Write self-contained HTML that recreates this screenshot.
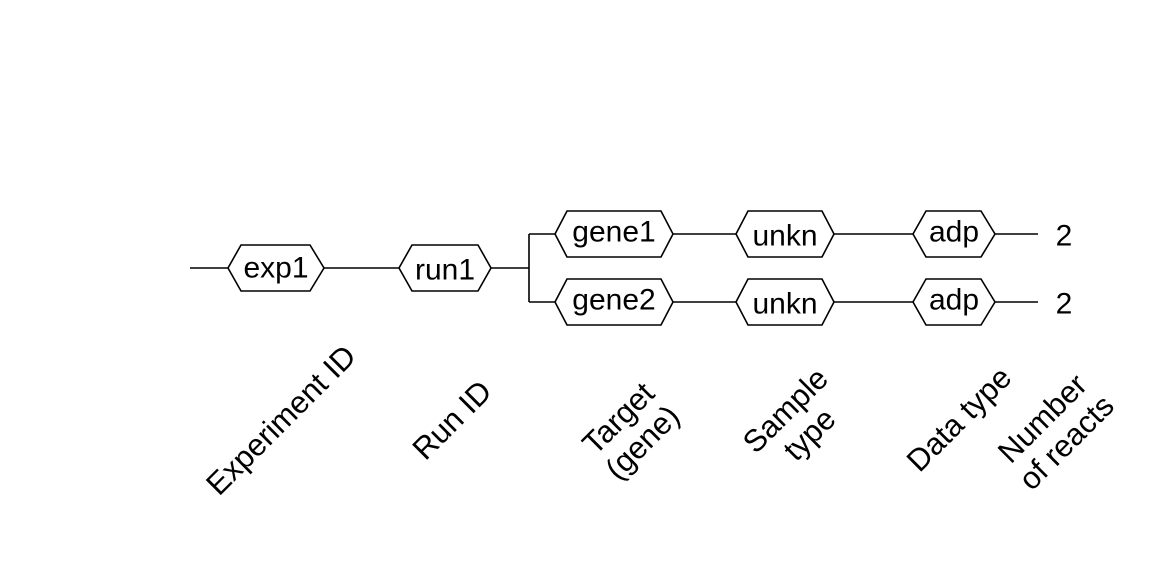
<!DOCTYPE html>
<html><head><meta charset="utf-8"><style>html,body{margin:0;padding:0;background:#fff}</style></head>
<body>
<svg width="1152" height="576" viewBox="0 0 1152 576" xmlns="http://www.w3.org/2000/svg" font-family="Liberation Sans, Arial, sans-serif" font-size="31">
<g fill="none" stroke="#000" stroke-width="1.6">
<path d="M190 268H228M324 268H399M491 268H529M529 234V302M529 234H555M529 302H555"/>
<path d="M673 234H736M834 234H913M995 234H1038"/>
<path d="M673 302H736M834 302H913M995 302H1038"/>
<polygon points="228,268 241,245 310,245 324,268 310,291 241,291"/>
<polygon points="399,268 412,245 478,245 491,268 478,291 412,291"/>
<polygon points="555,234 567,211 661,211 673,234 661,257 567,257"/>
<polygon points="555,302 567,279 661,279 673,302 661,325 567,325"/>
<polygon points="736,234 748,211 822,211 834,234 822,257 748,257"/>
<polygon points="736,302 748,279 822,279 834,302 822,325 748,325"/>
<polygon points="913,234 926,211 981,211 995,234 981,257 926,257"/>
<polygon points="913,302 926,279 981,279 995,302 981,325 926,325"/>
</g>
<g text-anchor="middle" dominant-baseline="central">
<g font-size="30">
<text x="276" y="268">exp1</text>
<text x="445" y="270">run1</text>
<text x="614" y="232">gene1</text>
<text x="614" y="300">gene2</text>
<text x="785" y="236">unkn</text>
<text x="785" y="304">unkn</text>
<text x="954" y="232">adp</text>
<text x="954" y="300">adp</text>
<text x="1064" y="236">2</text>
<text x="1064" y="304">2</text>
</g>
<text transform="translate(281,420) rotate(-45)">Experiment ID</text>
<text transform="translate(452,420) rotate(-45)">Run ID</text>
<text transform="translate(630,430) rotate(-45)"><tspan x="0" y="-17">Target</tspan><tspan x="0" y="17">(gene)</tspan></text>
<text transform="translate(797,422) rotate(-45)"><tspan x="0" y="-17">Sample</tspan><tspan x="0" y="17">type</tspan></text>
<text transform="translate(959,419) rotate(-45)">Data type</text>
<text transform="translate(1054,430) rotate(-45)"><tspan x="0" y="-17">Number</tspan><tspan x="0" y="17">of reacts</tspan></text>
</g>
</svg>
</body></html>
